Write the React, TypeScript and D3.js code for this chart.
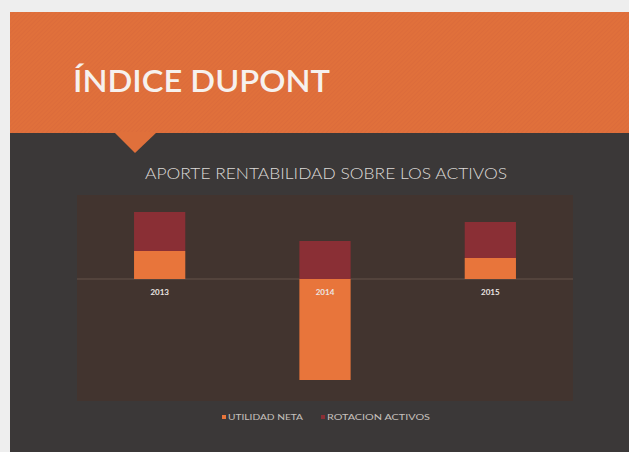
import React from 'react';
import * as d3 from 'd3';

const W = 629, H = 452;

const years = ['2013', '2014', '2015'];
const utilidadNeta = [2.8, -10.1, 2.1];
const rotacionActivos = [3.9, 3.8, 3.6];
const seriesNames = ['UTILIDAD NETA', 'ROTACION ACTIVOS'];
const seriesColors = ['#e8753b', '#8a2f35'];

const plot = { left: 77, right: 573, top: 195, bottom: 401 };

export default function App() {
  const rows = years.map((y, i) => ({ year: y, u: utilidadNeta[i], r: rotacionActivos[i] }));
  const stack = d3.stack<any>().keys(['u', 'r']).offset(d3.stackOffsetDiverging);
  const layers = stack(rows);

  const x = d3.scaleBand()
    .domain(years)
    .range([plot.left, plot.right])
    .paddingInner(0.69)
    .paddingOuter(0.345);

  const y = d3.scaleLinear().domain([-12.2, 8.4]).range([plot.bottom, plot.top]);
  const y0 = y(0);

  const font = '"Century Gothic", "Lato", "Open Sans", sans-serif';

  return (
    <svg width={W} height={H} style={{ position: 'absolute', left: 0, top: 0 }}>
      <defs>
        <pattern id="diag" width="3" height="3" patternUnits="userSpaceOnUse" patternTransform="rotate(45)">
          <rect width="3" height="3" fill="#e0703b" />
          <line x1="0" y1="0" x2="0" y2="3" stroke="#d8673a" strokeWidth="1" />
        </pattern>
      </defs>
      <rect width={W} height={H} fill="#eeeeee" />
      <rect x={10} y={12} width={W - 10} height={H - 12} fill="#3b3838" />
      <rect x={10} y={12} width={W - 10} height={121} fill="url(#diag)" />
      <path d="M114,132 L157,132 L135,153 Z" fill="#e0703b" />
      <text x={73} y={92} fill="#f6f1ee" fontFamily={font} fontWeight={600} fontSize={31}
        textLength={257} lengthAdjust="spacingAndGlyphs">ÍNDICE DUPONT</text>

      <text x={326} y={179} textAnchor="middle" fill="#dcd8d6" fontFamily={font} fontWeight={300} fontSize={15}
        textLength={362} lengthAdjust="spacingAndGlyphs">APORTE RENTABILIDAD SOBRE LOS ACTIVOS</text>

      <rect x={plot.left} y={plot.top} width={plot.right - plot.left} height={plot.bottom - plot.top} fill="#42342f" />
      <line x1={plot.left} x2={plot.right} y1={y0} y2={y0} stroke="#65524b" strokeWidth={1} />

      {layers.map((layer, li) => (
        <g key={li} fill={seriesColors[li]}>
          {layer.map((d: any, i) => (
            <rect key={i} x={x(years[i])} width={x.bandwidth()}
              y={y(Math.max(d[0], d[1]))} height={Math.abs(y(d[0]) - y(d[1]))} />
          ))}
        </g>
      ))}

      {years.map(yr => (
        <text key={yr} x={(x(yr) as number) + x.bandwidth() / 2} y={295} textAnchor="middle"
          fill="#ebe6e3" fontFamily={font} fontWeight="bold" fontSize={8}>{yr}</text>
      ))}

      <g fontFamily={font} fontSize={7.5} fill="#c6c0bd">
        <rect x={222} y={415} width={4} height={4} fill={seriesColors[0]} />
        <text x={228} y={420} textLength={75} lengthAdjust="spacingAndGlyphs">{seriesNames[0]}</text>
        <rect x={321} y={415} width={4} height={4} fill={seriesColors[1]} />
        <text x={327} y={420} textLength={103} lengthAdjust="spacingAndGlyphs">{seriesNames[1]}</text>
      </g>
    </svg>
  );
}
